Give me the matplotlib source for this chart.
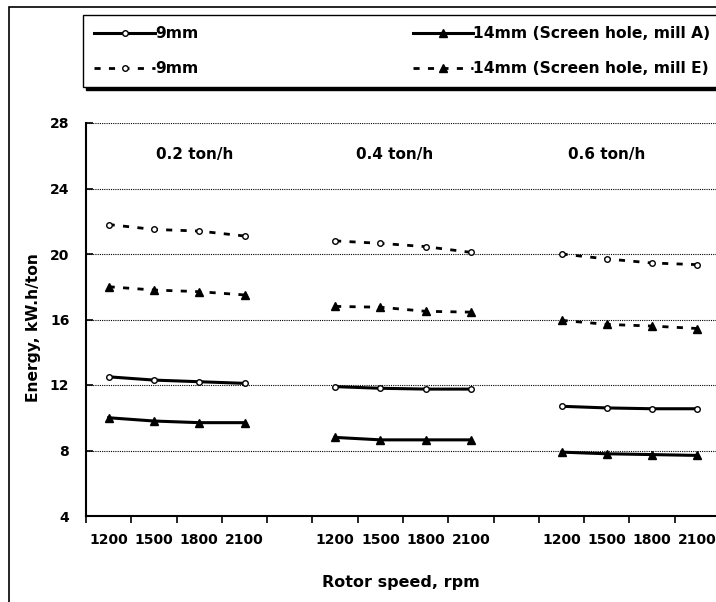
import numpy as np
import matplotlib
matplotlib.use("Agg")
import matplotlib.pyplot as plt
from matplotlib.patches import Rectangle

plt.rcParams['font.family'] = ['DejaVu Sans']
plt.rcParams['font.weight'] = 'bold'

# Data
speeds = ['1200', '1500', '1800', '2100']
rates = ['0.2 ton/h', '0.4 ton/h', '0.6 ton/h']
mill_a_9mm = [[12.5, 12.3, 12.2, 12.1], [11.9, 11.8, 11.75, 11.75], [10.7, 10.6, 10.55, 10.55]]
mill_a_14mm = [[10.0, 9.8, 9.7, 9.7], [8.8, 8.65, 8.65, 8.65], [7.9, 7.8, 7.75, 7.7]]
mill_e_9mm = [[21.8, 21.5, 21.4, 21.1], [20.8, 20.65, 20.45, 20.1], [20.0, 19.7, 19.45, 19.35]]
mill_e_14mm = [[18.0, 17.8, 17.7, 17.5], [16.8, 16.75, 16.5, 16.45], [15.95, 15.7, 15.6, 15.45]]


def flatten(groups):
    # one blank category between the feed-rate groups
    out = []
    for i, g in enumerate(groups):
        out += g
        if i < len(groups) - 1:
            out.append(np.nan)
    return np.array(out, dtype=float)


cats = []
for i in range(len(rates)):
    cats += speeds
    if i < len(rates) - 1:
        cats.append('')
x = np.arange(len(cats))

fig = plt.figure(figsize=(7.16, 6.02), dpi=100)
W, H = 716, 602
ax = fig.add_axes([86 / W, (H - 516) / H, (720 - 86) / W, (516 - 123) / H])

dash = (0, (2.2, 3))
l1, = ax.plot(x, flatten(mill_a_9mm), '-', color='black', lw=2.2, marker='o',
              ms=4, mfc='white', mec='black', mew=1, label='9mm')
l2, = ax.plot(x, flatten(mill_a_14mm), '-', color='black', lw=2.2, marker='^',
              ms=5.5, mfc='black', mec='black', label='14mm (Screen hole, mill A)')
l3, = ax.plot(x, flatten(mill_e_9mm), linestyle=dash, color='black', lw=2, marker='o',
              ms=4, mfc='white', mec='black', mew=1, label='9mm')
l4, = ax.plot(x, flatten(mill_e_14mm), linestyle=dash, color='black', lw=2, marker='^',
              ms=5.5, mfc='black', mec='black', label='14mm (Screen hole, mill E)')

ax.set_xlim(-0.5, len(cats) - 0.5)
ax.set_ylim(4, 28)
ax.set_yticks(np.arange(4, 29, 4))
ax.set_xticks(x)
ax.set_xticklabels(cats)
ax.set_xticks(np.arange(-0.5, len(cats), 1), minor=True)
ax.tick_params(axis='x', which='major', length=0, pad=12, labelsize=10)
ax.tick_params(axis='x', which='minor', length=5, width=1.2, direction='out')
ax.tick_params(axis='y', length=5, width=1.2, direction='in', pad=12, labelsize=10)
ax.grid(axis='y', color='black', lw=0.8, linestyle=(0, (1, 1)))
for s in ['top', 'right']:
    ax.spines[s].set_visible(False)
for s in ['left', 'bottom']:
    ax.spines[s].set_linewidth(1.5)

# group labels
for xp, r in zip([1.9, 6.32, 11.0], rates):
    ax.text(xp, 26.1, r, ha='center', va='center', fontsize=11, fontweight='bold')

ax.set_xlabel('Rotor speed, rpm', fontsize=11.5, fontweight='bold')
ax.set_ylabel('Energy, kW.h/ton', fontsize=11.2, fontweight='bold')
ax.xaxis.set_label_coords((401 - 86) / (720 - 86), -(575 - 516) / (516 - 123))
ax.yaxis.set_label_coords(-(86 - 41) / (720 - 86), 0.48)

leg = fig.legend([l1, l3, l2, l4], [l1.get_label(), l3.get_label(), l2.get_label(), l4.get_label()],
                 ncol=2, loc='upper left', bbox_to_anchor=(83 / W, 1 - 15 / H),
                 borderaxespad=0, frameon=True, fancybox=False,
                 shadow={'shade': 1.0, 'alpha': 1},
                 handlelength=3.9, handletextpad=0.0, columnspacing=13.8,
                 borderpad=0.72, labelspacing=1.28,
                 prop={'size': 11.2, 'weight': 'bold'})
leg.get_frame().set_edgecolor('black')
leg.get_frame().set_linewidth(1.0)

# chart area border (cropped on the right and bottom)
fig.patches.append(Rectangle((9 / W, -0.1), 1.2, 1.1 - 7 / H, transform=fig.transFigure,
                             fill=False, edgecolor='black', lw=1.2))

plt.savefig('out.png', dpi=100)
